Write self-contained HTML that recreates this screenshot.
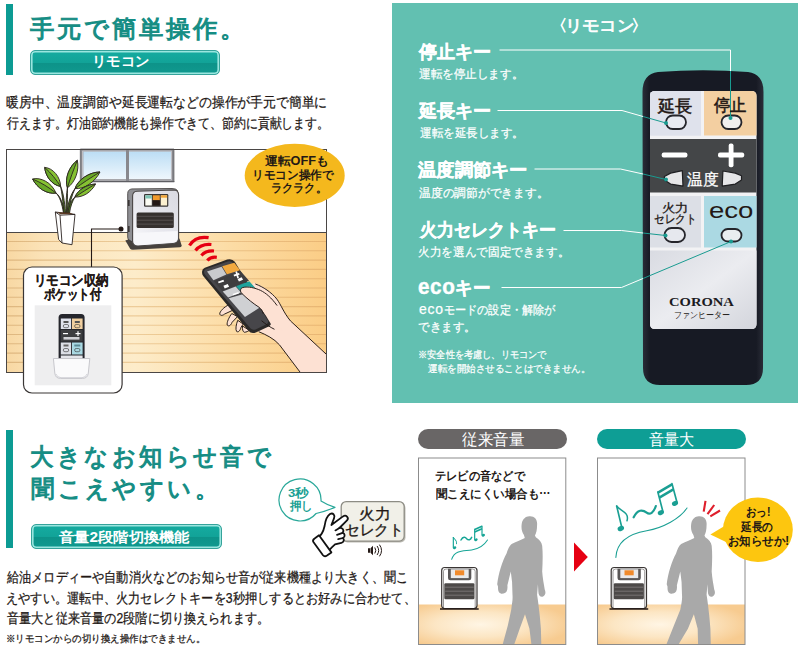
<!DOCTYPE html>
<html lang="ja">
<head>
<meta charset="utf-8">
<title>リモコン</title>
<style>
html,body{margin:0;padding:0;background:#fff;}
body{width:800px;height:660px;position:relative;overflow:hidden;font-family:"Liberation Sans",sans-serif;color:#231815;}
.abs{position:absolute;white-space:nowrap;}
.t{position:absolute;white-space:nowrap;transform-origin:0 0;}
#art{position:absolute;left:0;top:0;width:800px;height:660px;}
.bar{position:absolute;left:6px;width:7px;background:#0c9b93;}
.badge{position:absolute;box-sizing:border-box;height:25px;border-radius:5px;border:0.8px solid #35a39b;box-shadow:inset 0 0 0 1.6px #9ae6df;background:linear-gradient(#15aba0 0%,#12a398 50%,#0d9389 54%,#10998f 100%);}
.panel{position:absolute;left:392px;top:3px;width:406px;height:400px;background:#62c0b1;}
.pill{position:absolute;height:20px;border-radius:10px;}
</style>
</head>
<body>
<svg id="art" width="800" height="660" viewBox="0 0 800 660">
<defs>
<linearGradient id="floorg" x1="0" y1="0" x2="1" y2="0"><stop offset="0" stop-color="#f8d8a3"/><stop offset="0.12" stop-color="#fbe3b8"/><stop offset="0.4" stop-color="#fdecca"/><stop offset="0.7" stop-color="#fcdca5"/><stop offset="1" stop-color="#fbcd86"/></linearGradient><linearGradient id="stripeg" gradientUnits="userSpaceOnUse" x1="6" y1="0" x2="326" y2="0"><stop offset="0" stop-color="#dcb47b"/><stop offset="0.4" stop-color="#ecc994"/><stop offset="1" stop-color="#e8b471"/></linearGradient>
<linearGradient id="pane" x1="0" y1="0" x2="0" y2="1"><stop offset="0" stop-color="#b9dcf4"/><stop offset="1" stop-color="#f1f8fd"/></linearGradient>
<radialGradient id="floor2" cx="0.42" cy="0.5" r="0.62"><stop offset="0" stop-color="#fff5e4"/><stop offset="0.5" stop-color="#fce6c4"/><stop offset="1" stop-color="#f7cb90"/></radialGradient>
<linearGradient id="hfront" x1="1" y1="0" x2="0" y2="1"><stop offset="0" stop-color="#d9d9e1"/><stop offset="0.6" stop-color="#e9e9ef"/><stop offset="1" stop-color="#fafafc"/></linearGradient>
</defs>
<!-- ROOM -->
<g id="room">
<rect x="6.500" y="149.500" width="320" height="223" fill="#fff"/>
<rect x="6.500" y="232.500" width="320" height="140" fill="url(#floorg)"/>
<g stroke="url(#stripeg)" stroke-width="1.100" opacity="0.9">
<path d="M7 241.500H326M7 250.800H326M7 260.100H326M7 269.400H326M7 278.700H326M7 288H326M7 297.300H326M7 306.600H326M7 315.900H326M7 325.200H326M7 334.500H326M7 343.800H326M7 353.100H326M7 362.400H326"/>
</g>
<path d="M6.500 232.500H326.500" stroke="#4a4645" stroke-width="1"/>
<!-- window -->
<rect x="81.800" y="150" width="90.700" height="30.500" fill="url(#pane)" stroke="#88888d" stroke-width="3"/>
<rect x="82.700" y="151" width="88.600" height="29" fill="none" stroke="#d6d6da" stroke-width="0.800"/>
<path d="M127.500 150V181" stroke="#88888d" stroke-width="3"/>
<path d="M80 181.700H174.300" stroke="#5e5e63" stroke-width="1.300"/><path d="M80.300 150V182M174 150V182" stroke="#5e5e63" stroke-width="0.700"/>
<rect x="6.500" y="149.500" width="320" height="223" fill="none" stroke="#4a4645" stroke-width="1"/>
<!-- plant -->
<g stroke="#2a2320" stroke-width="0.900" stroke-linejoin="round">
<path d="M65 213 C63 203 60 196 56 193 C60 197 62 204 63.500 213Z" fill="#4d7d1f"/>
<path d="M65.500 213 C64.500 200 63 192 60.600 186.400 C62 193 63 202 64 213Z" fill="#4d7d1f"/>
<path d="M66 213 C66 200 66.500 194 67.400 188 C67.500 195 67.500 203 67 213Z" fill="#4d7d1f"/>
<path d="M67 213 C68 202 71 194 75 188.600 C72 195 69.500 203 68.500 213Z" fill="#4d7d1f"/>
<path d="M68 213 C69 206 71 200 75 197 C72.500 201 70.500 206 69.500 213Z" fill="#4d7d1f"/>
<path d="M32.600 179 C41 177 51.500 182.500 56 193 C47 194.500 37 188 32.600 179Z" fill="#86c232"/>
<path d="M32.600 179 C41 182.500 49 187.500 56 193 C47 194.500 37 188 32.600 179Z" fill="#69a828"/>
<path d="M44.700 167.400 C53 168 60.500 177 60.600 186.400 C52 185 45.500 176.500 44.700 167.400Z" fill="#86c232"/>
<path d="M44.700 167.400 C51 173 56.500 180 60.600 186.400 C52 185 45.500 176.500 44.700 167.400Z" fill="#69a828"/>
<path d="M77.300 160.300 C79.500 170 75.500 182 67.400 187.900 C64.500 178.500 69 166.500 77.300 160.300Z" fill="#86c232"/>
<path d="M77.300 160.300 C73.500 170 70 179 67.400 187.900 C64.500 178.500 69 166.500 77.300 160.300Z" fill="#69a828"/>
<path d="M100 172 C95 182 84 189.500 75 188.600 C78 179.500 89.500 172 100 172Z" fill="#86c232"/>
<path d="M100 172 C91 177.500 82 183.500 75 188.600 C78 179.500 89.500 172 100 172Z" fill="#69a828"/>
<path d="M95.500 184 C91.500 192 83 197.500 75 197 C78 189.500 87 184.500 95.500 184Z" fill="#86c232"/>
<path d="M95.500 184 C88 188.500 81 193 75 197 C78 189.500 87 184.500 95.500 184Z" fill="#69a828"/>
<path d="M55.300 212 L75 214.400 L72 244.700 L62 243 L58.600 239.400 Z" fill="#fff"/>
<path d="M55.300 212 L60 215.200 L75 214.400 M60 215.200 L62 243" fill="none"/>
<path d="M57 212.300 L60.300 214.200 L73 213.900 L70 212.800Z" fill="#5b3a22" stroke="none"/>
</g>
<!-- heater -->
<g>
<path d="M125.300 240.500 L131 238.500 L179.500 238.500 L181.700 245.500 Q181.700 247 180 247.300 L133 249.700 Q131 249.800 130 248.500 Z" fill="#46413d"/>
<path d="M127.700 193.500 Q127.700 189.500 132 188.900 L172 188.500 Q176 188.500 177.500 190.500 L134 193 L132.600 242 L129 240 Q127.700 239 127.700 237 Z" fill="#8f8f93" stroke="#3a3635" stroke-width="0.800" stroke-linejoin="round"/>
<path d="M132.600 196 Q132.600 191.500 137 191.200 L173.500 190 Q178.600 190 178.600 195 L178.600 238 Q178.600 243 173 243.500 L138 246 Q132.600 246 132.600 241 Z" fill="url(#hfront)" stroke="#4a4645" stroke-width="1.100"/>
<path d="M134 233 L177.500 231 L177.500 238 Q177.500 242 173 242.500 L138 245 Q134 245 134 241Z" fill="#f7f7fa"/>
<rect x="144" y="194" width="24.300" height="12.700" rx="1.200" fill="#3a3635"/>
<rect x="145.300" y="195.300" width="6.500" height="10.200" fill="#fbfbf3"/><rect x="145.300" y="195.300" width="6.500" height="3.200" fill="#7fc4b5"/>
<rect x="152.800" y="195.300" width="7" height="5" fill="#f29b2e"/><rect x="152.800" y="200.300" width="7" height="5.200" fill="#231815"/>
<rect x="160.800" y="195.300" width="6.300" height="10.200" fill="#fcf0d0"/><rect x="160.800" y="195.300" width="6.300" height="2.400" fill="#f2a53a"/>
<rect x="136.600" y="212.500" width="37.200" height="15.500" rx="1.500" fill="#35302e"/>
<path d="M137 216.300H173.500M137 220.200H173.500M137 224.100H173.500" stroke="#5a5553" stroke-width="0.900"/>
<rect x="128" y="200" width="1.600" height="6" fill="#3a3635"/><rect x="128" y="226" width="1.600" height="6" fill="#3a3635"/>
</g>
<!-- connector -->
<path d="M91.500 267 V229 H121" fill="none" stroke="#231815" stroke-width="1.100"/>
<circle cx="121" cy="229" r="2.500" fill="#231815"/>
<!-- label box -->
<rect x="23.500" y="267" width="98.600" height="126" rx="8.500" fill="#fff" stroke="#3a3635" stroke-width="1.200"/>
<rect x="34.700" y="305.300" width="76.600" height="80" fill="#eeeeef"/>
<!-- remote photo -->
<rect x="58.600" y="314" width="26" height="50" rx="3.500" fill="#25262c"/>
<rect x="60.800" y="318.500" width="10.300" height="10.500" fill="#dfe2ec"/><rect x="72" y="318.500" width="10.600" height="10.500" fill="#f0cfa0"/>
<rect x="60.800" y="330" width="21.800" height="11.500" fill="#3d3e40"/>
<rect x="63" y="333" width="5" height="1.200" fill="#fff"/><rect x="75.500" y="333" width="5" height="1.200" fill="#fff"/><rect x="77.400" y="331.200" width="1.200" height="4.800" fill="#fff"/>
<rect x="63.500" y="337" width="16" height="2.600" fill="#cfd0d4"/>
<rect x="60.800" y="342.500" width="10.300" height="12" fill="#dcdfe6"/><rect x="72" y="342.500" width="10.600" height="12" fill="#a9d8e2"/>
<rect x="60.800" y="355.500" width="21.800" height="7" fill="#e4e5ea"/>
<rect x="63.500" y="321" width="5" height="2" fill="#555"/><rect x="74.800" y="321" width="5" height="2" fill="#555"/>
<rect x="63.300" y="324.500" width="5.400" height="3.200" rx="1.600" fill="none" stroke="#333" stroke-width="0.600"/><rect x="74.600" y="324.500" width="5.400" height="3.200" rx="1.600" fill="none" stroke="#333" stroke-width="0.600"/>
<rect x="63.300" y="348.500" width="5.400" height="3.200" rx="1.600" fill="none" stroke="#333" stroke-width="0.600"/><rect x="74.600" y="348.500" width="5.400" height="3.200" rx="1.600" fill="none" stroke="#333" stroke-width="0.600"/>
<rect x="63.500" y="344.500" width="5" height="2" fill="#666"/><rect x="74.300" y="344.500" width="6" height="2" fill="#5a8a96"/>
<path d="M53.400 358.500 L89.800 358.500 L88.300 373 Q87.800 378.400 82.500 378.400 L60.500 378.400 Q55.300 378.400 54.800 373 Z" fill="#fafafb" stroke="#c2c2c7" stroke-width="0.900"/>
<path d="M56 374 Q57 377.500 61 377.700 L82 377.700 Q86 377.500 87 374" fill="none" stroke="#c9c9cf" stroke-width="0.800"/>
<!-- hand + remote -->
<clipPath id="roomclip"><rect x="7" y="150" width="319" height="222"/></clipPath>
<g clip-path="url(#roomclip)">
<g transform="translate(195,250) scale(0.13643)" stroke-linejoin="round" stroke-linecap="round">
<!-- back layer: fingers + palm/arm -->
<g fill="#fde1d3" stroke="#231815" stroke-width="7">
<path d="M262 395 C225 408 190 440 182 462 C178 482 200 484 216 470 L280 440 Z"/>
<path d="M268 468 C248 495 232 530 236 550 C246 564 264 552 272 530 L310 490 Z"/>
<path d="M312 518 C300 550 296 582 305 597 C320 607 333 586 338 565 L352 545 Z"/>
<path d="M348 560 C346 582 350 598 362 603 C378 602 388 596 396 590 Z"/>
<path d="M430 240 C500 265 560 310 600 360 C630 400 650 460 700 520 L960 762 L960 900 L770 895 L619 695 C580 650 520 620 470 600 L400 560 L300 400 Z" stroke="none"/>
</g>
<!-- remote body -->
<path d="M52 162 Q50 140 72 130 L236 70 Q272 60 292 86 L556 520 Q566 546 540 560 L446 604 Q412 616 392 592 L60 190 Q50 178 52 162 Z" fill="#2b2928"/>
<path d="M66 160 Q66 146 82 140 L240 84 Q264 78 278 96 L534 516 Q542 534 524 544 L444 582 Q420 590 406 574 L74 182 Q66 172 66 160 Z" fill="#47464a"/>
<path d="M88 158 L195 122 L230 180 L135 222 Z" fill="#c9cacd"/>
<path d="M199 120 L288 93 L330 148 L234 178 Z" fill="#f2a93f"/>
<path d="M138 227 L332 153 L396 226 L200 300 Z" fill="#3e3d3f"/>
<path d="M168 232 L208 218 L214 230 L174 244 Z M282 182 L322 168 L328 180 L288 194 Z M296 160 L308 156 L322 204 L310 208 Z M208 262 L240 250 L250 270 L218 282 Z M312 212 L342 200 L352 218 L322 230 Z" fill="#fff"/>
<path d="M203 304 L298 268 L338 312 L243 348 Z" fill="#cfd0d3"/>
<path d="M302 266 L398 229 L452 290 L342 310 Z" fill="#1fa39c"/>
<path d="M276 322 L318 308 L322 318 L280 332 Z" fill="#fff"/>
<path d="M247 353 L452 296 L478 420 L366 492 Z" fill="#cfd0d3"/>
<!-- thumb front layer -->
<path d="M350 275 C390 262 440 275 490 300 C540 330 580 380 600 420 L640 600 C560 540 510 450 470 420 C430 395 380 355 345 320 C328 305 330 282 350 275 Z" fill="#fde1d3"/>
<path d="M470 420 C500 440 540 520 580 580 L700 560 L600 400 Z" fill="#fde1d3"/>
<g fill="none" stroke="#231815" stroke-width="7">
<path d="M445 250 C500 270 560 310 600 360 C630 400 650 460 700 520 L960 762"/>
<path d="M600 405 C560 350 520 315 480 296 C440 278 390 265 350 275 C330 282 328 305 345 320 C380 355 430 395 470 420 C485 432 495 445 500 465"/>
<path d="M490 520 C520 545 550 565 580 580"/>
<path d="M470 600 C520 620 580 650 619 695 L770 895"/>
</g>
</g>
</g>
<!-- signal arcs -->
<g fill="none" stroke="#e60012" stroke-width="3.200">
<path d="M189.500 245.500 Q195.600 235.600 208.600 237.700"/>
<path d="M195.500 250.500 Q201.100 243.500 211.400 244.500"/>
<path d="M201.400 255.500 Q205.900 250.400 214 251"/>
<path d="M207.300 260.500 Q210.700 256.500 216.800 257.300"/>
</g>
<!-- bubble -->
<ellipse cx="294.700" cy="175.400" rx="50" ry="31.600" fill="#f4b81d"/>
</g>
<!-- BOTTOM PANELS -->
<g id="bottom">
<rect x="418.500" y="458" width="147.300" height="186.500" fill="#fff"/>
<rect x="418.500" y="604.500" width="147.300" height="40" fill="url(#floor2)"/>
<rect x="418.500" y="458" width="147.300" height="186.500" fill="none" stroke="#8c8c8c" stroke-width="1"/>
<rect x="597.500" y="458" width="147.500" height="186.500" fill="#fff"/>
<rect x="597.500" y="604.500" width="147.500" height="40" fill="url(#floor2)"/>
<rect x="597.500" y="458" width="147.500" height="186.500" fill="none" stroke="#8c8c8c" stroke-width="1"/>
<clipPath id="b1"><rect x="419" y="458" width="146.500" height="186"/></clipPath>
<clipPath id="b2"><rect x="598" y="458" width="146.500" height="186"/></clipPath>
<g clip-path="url(#b1)"><path transform="translate(490,510) scale(0.21213)" d="M185 30 C210 28 224 45 222 70 C222 95 218 110 212 120 L216 128 C232 140 244 150 246 168 C250 210 248 250 246 290 C248 320 254 350 258 375 C264 388 262 402 250 408 C238 412 228 402 228 385 L226 350 L222 400 C228 440 236 500 240 560 L242 640 L196 640 L186 560 L165 492 L140 560 L112 640 L58 640 L84 545 L100 470 C104 440 108 420 106 400 L104 340 L98 290 L82 355 C84 375 80 390 64 394 C46 398 36 385 38 362 L34 350 C40 300 58 240 78 205 C84 185 92 168 102 160 C125 150 150 140 164 132 L160 118 C150 105 146 85 150 62 C155 42 168 31 185 30 Z" fill="#a9a9a9"/></g>
<g clip-path="url(#b2)"><path transform="translate(659.500,510) scale(0.21213)" d="M185 30 C210 28 224 45 222 70 C222 95 218 110 212 120 L216 128 C232 140 244 150 246 168 C250 210 248 250 246 290 C248 320 254 350 258 375 C264 388 262 402 250 408 C238 412 228 402 228 385 L226 350 L222 400 C228 440 236 500 240 560 L242 640 L182 640 L180 560 L162 492 L134 560 L86 640 L30 640 L68 545 L98 470 C104 440 108 420 106 400 L104 340 L98 290 L82 355 C84 375 80 390 64 394 C46 398 36 385 38 362 L34 350 C40 300 58 240 78 205 C84 185 92 168 102 160 C125 150 150 140 164 132 L160 118 C150 105 146 85 150 62 C155 42 168 31 185 30 Z" fill="#a9a9a9"/></g>
<g transform="translate(441.7,0)">
<rect x="0" y="567.500" width="35.300" height="41" rx="3" fill="#fff" stroke="#3a3635" stroke-width="1.200"/>
<path d="M1.800 609V571.500Q1.800 569 4.300 569H31Q33.500 569 33.500 571.500V609" fill="none" stroke="#3a3635" stroke-width="0.500"/>
<path d="M6.300 568.800H29.600V578Q29.600 580.300 27.300 580.300H8.600Q6.300 580.300 6.300 578Z" fill="#5a5757"/>
<rect x="9.100" y="569.300" width="17.900" height="8.800" fill="#e9e9ea"/>
<rect x="13.300" y="570.300" width="9.200" height="5" fill="#f08a2c"/>
<rect x="2.600" y="583.300" width="30.100" height="16" rx="1.200" fill="#4c4948"/>
<path d="M3.500 587.200H32M3.500 591.200H32M3.500 595.200H32" stroke="#8a8786" stroke-width="0.700"/>
<path d="M-1.700 609H37" stroke="#231815" stroke-width="1.600"/>
</g>
<g transform="translate(611.2,0)">
<rect x="0" y="567.500" width="35.300" height="41" rx="3" fill="#fff" stroke="#3a3635" stroke-width="1.200"/>
<path d="M1.800 609V571.500Q1.800 569 4.300 569H31Q33.500 569 33.500 571.500V609" fill="none" stroke="#3a3635" stroke-width="0.500"/>
<path d="M6.300 568.800H29.600V578Q29.600 580.300 27.300 580.300H8.600Q6.300 580.300 6.300 578Z" fill="#5a5757"/>
<rect x="9.100" y="569.300" width="17.900" height="8.800" fill="#e9e9ea"/>
<rect x="13.300" y="570.300" width="9.200" height="5" fill="#f08a2c"/>
<rect x="2.600" y="583.300" width="30.100" height="16" rx="1.200" fill="#4c4948"/>
<path d="M3.500 587.200H32M3.500 591.200H32M3.500 595.200H32" stroke="#8a8786" stroke-width="0.700"/>
<path d="M-1.700 609H37" stroke="#231815" stroke-width="1.600"/>
</g>
<!-- red triangle -->
<path d="M574 542.500 L587.800 557 L574 571.500 Z" fill="#e60012"/>
<!-- small notes -->
<g transform="translate(430,510) scale(0.16667)" fill="none" stroke="#16a596" stroke-linecap="round" stroke-linejoin="round">
<path d="M140 165 V226" stroke-width="7"/><ellipse cx="148" cy="226" rx="10.500" ry="8" transform="rotate(-25 148 226)" fill="#16a596" stroke="none"/>
<path d="M140 165 C148 178 165 182 159 202" stroke-width="6"/>
<path d="M186 180 C198 158 212 162 220 172 C230 184 244 180 250 164" stroke-width="9"/>
<path d="M268 116 V178 M312 96 V150" stroke-width="7"/>
<path d="M268 117 L312 97 M268 132 L312 112" stroke-width="10" stroke-linecap="butt"/>
<ellipse cx="276" cy="179" rx="10.500" ry="8" transform="rotate(-25 276 179)" fill="#16a596" stroke="none"/>
<ellipse cx="320" cy="151" rx="10.500" ry="8" transform="rotate(-25 320 151)" fill="#16a596" stroke="none"/>
<path d="M130 296 C150 238 200 248 250 240 C300 232 330 204 345 180" stroke-width="6"/>
</g>
<!-- large notes -->
<g transform="translate(600,470) scale(0.16667)" fill="none" stroke="#1a9f93" stroke-linecap="round" stroke-linejoin="round">
<path d="M100 216 L131 346" stroke-width="10"/><ellipse cx="125" cy="351" rx="20" ry="15" transform="rotate(-25 125 351)" fill="#1a9f93" stroke="none"/>
<path d="M100 216 C120 245 178 252 162 304" stroke-width="9"/>
<path d="M202 284 C225 236 255 236 280 256 C300 272 322 256 335 216" stroke-width="13"/>
<path d="M347 132 L378 252 M432 82 L463 198" stroke-width="10"/>
<path d="M348 136 L432 86 M356 166 L440 116" stroke-width="15" stroke-linecap="butt"/>
<ellipse cx="365" cy="256" rx="19" ry="14.500" transform="rotate(-25 365 256)" fill="#1a9f93" stroke="none"/>
<ellipse cx="450" cy="200" rx="19" ry="14.500" transform="rotate(-25 450 200)" fill="#1a9f93" stroke="none"/>
<path d="M95 525 C100 430 180 382 280 365 C380 346 480 292 522 228" stroke-width="6.500"/>
</g>
<!-- red alert lines -->
<g stroke="#df1f2c" stroke-width="2.100" fill="none"><path d="M705.500 500.800L703.700 511.700M714.200 505L707.500 514.200M720 510.500L710.300 516.300"/></g>
<!-- yellow bubble 2 -->
<ellipse cx="757.900" cy="529.700" rx="34.900" ry="32.200" fill="#fdc60f"/>
<path d="M710.400 534.500 L727 524.500 L726 542 Z" fill="#fdc60f"/>
<!-- 3sec bubble -->
<path d="M321 501.100 A21 21 0 1 0 316.100 513.500 Q325 511.500 335 507.400 Q327 505 321 501.100 Z" fill="#fff" stroke="#2aa89a" stroke-width="1.200" stroke-linejoin="round"/>
<!-- button -->
<rect x="342.500" y="503" width="63" height="39.500" rx="5" fill="#bdbcb4"/>
<rect x="341.200" y="501.600" width="63" height="39.500" rx="5" fill="#f1f0e8" stroke="#8d8c84" stroke-width="1.300"/>
<!-- pointing hand -->
<g transform="translate(261,460) scale(0.2)" stroke="#111" stroke-width="9" stroke-linejoin="round" stroke-linecap="round" fill="#fff">
<path d="M318 330 C322 300 330 280 345 270 C360 262 372 275 365 292 L352 325 L410 282 C425 272 442 288 430 302 L392 340 C408 338 418 352 408 364 C420 366 422 384 410 390 C418 398 414 412 402 414 L370 422 C350 440 335 455 330 470 L275 400 C295 385 312 360 318 330 Z"/>
<path d="M392 340 L372 352 M408 364 L380 374 M410 390 L386 396" fill="none"/>
<path d="M268 392 L290 376 L352 462 L330 478 Q318 486 310 476 L262 410 Q256 400 268 392 Z"/>
</g>
<!-- speaker icon -->
<g fill="#231815" stroke="none">
<path d="M368 548.300H370V552.700H368Z M370.500 548.300L373 545.800V555.200L370.500 552.700Z"/>
</g>
<g fill="none" stroke="#231815" stroke-width="1" stroke-linecap="round">
<path d="M375 547.800Q376.800 550.500 375 553.200M377.300 546.300Q380.300 550.500 377.300 554.700M379.700 545Q383.600 550.500 379.700 556"/>
</g>
</g>
</svg>
<div class="bar" style="top:4px;height:71px"></div>
<div class="badge" style="left:30px;top:50px;width:190px"></div>
<div class="bar" style="top:430px;height:118px"></div>
<div class="badge" style="left:31px;top:524px;width:191px"></div>
<div class="pill" style="left:418px;top:429px;width:149px;background:#696666"></div>
<div class="pill" style="left:597px;top:429px;width:149px;background:#0e9e95"></div>

<div class="panel"></div>
<svg class="abs" style="left:0;top:0" width="800" height="660" viewBox="0 0 800 660">
<defs>
<linearGradient id="lowp" x1="0" y1="0" x2="1" y2="1"><stop offset="0" stop-color="#d9dbe2"/><stop offset="0.5" stop-color="#ebecf0"/><stop offset="1" stop-color="#d3d5dc"/></linearGradient>
<linearGradient id="rbody" x1="0" y1="0" x2="1" y2="0"><stop offset="0" stop-color="#2a2d38"/><stop offset="0.06" stop-color="#171a24"/><stop offset="0.94" stop-color="#171a24"/><stop offset="1" stop-color="#2a2d38"/></linearGradient>
</defs>
<!-- remote body -->
<path d="M642.5 92 Q642.5 74 658 72 Q703 68.500 748 72 Q763.500 74 763.500 92 L763 368 Q763 385 746 385 L660 385 Q643 385 643 368 Z" fill="url(#rbody)"/>
<!-- inner panel -->
<path d="M650 96 Q650 91 655 91 L751.500 91 Q756.500 91 756.500 96 L756.500 324 Q756.500 329 751.500 329 L655 329 Q650 329 650 324 Z" fill="#f2f2f4"/>
<rect x="650.500" y="92" width="50.500" height="43.500" fill="#dfe2ec"/>
<path d="M650 96 Q650 91 655 91 L701 91 L701 135.500 L650 135.500 Z" fill="#dfe2ec"/>
<path d="M704 91 L751.500 91 Q756.500 91 756.500 96 L756.500 135.500 L704 135.500 Z" fill="#f3cfa1"/>
<rect x="650" y="139" width="106.500" height="53.500" fill="#444648"/>
<rect x="650" y="196" width="51" height="51.500" fill="#dcdfe6"/>
<rect x="704" y="196" width="52.500" height="51.500" fill="#abd9e3"/>
<path d="M650 250.500 L756.500 250.500 L756.500 324 Q756.500 329 751.500 329 L655 329 Q650 329 650 324 Z" fill="url(#lowp)"/>
<!-- minus / plus -->
<rect x="661.700" y="152.600" width="25.700" height="4.800" rx="2" fill="#fff"/>
<rect x="718" y="152.600" width="26.200" height="4.800" rx="2" fill="#fff"/>
<rect x="728.700" y="143.500" width="4.800" height="23.700" rx="2" fill="#fff"/>
<!-- temp arrow buttons -->
<path d="M682.300 170.700 L683 186.100 L670.600 184.100 L664.400 180 L664.400 176.500 L670.600 173.100 Z" fill="#e6e6e8" stroke="#1f1f22" stroke-width="1.200" stroke-linejoin="round"/>
<path d="M722.900 171 L722.200 186.100 L735.300 184.100 L741.500 180 L741.500 175.800 L735.300 173.100 Z" fill="#e6e6e8" stroke="#1f1f22" stroke-width="1.200" stroke-linejoin="round"/>
<!-- oval buttons -->
<rect x="666" y="115.500" width="20" height="13.500" rx="6.750" fill="#e9ebf2" stroke="#25252b" stroke-width="1.800"/>
<rect x="721.500" y="115.500" width="20" height="13.500" rx="6.750" fill="#f1efee" stroke="#25252b" stroke-width="1.800"/>
<rect x="664.500" y="228" width="20.500" height="14" rx="7" fill="#e6e8ee" stroke="#25252b" stroke-width="1.800"/>
<rect x="721.500" y="229" width="20" height="12.500" rx="6.250" fill="#e9eef0" stroke="#25252b" stroke-width="1.800"/>
<!-- leader lines (white on panel) -->
<g fill="none" stroke="#fff" stroke-width="1">
<path d="M499.500 50 L730.500 50 L730.500 71"/>
<path d="M497.500 110.500 L622 110.500 L643 116.500"/>
<path d="M534.500 169 L620.500 169 L643 174"/>
<path d="M563.500 230.500 L621.500 230.500 L643 233"/>
<path d="M501.500 287.500 L621.500 287.500 L643 278.500"/>
</g>
<g fill="none" stroke="#199b90" stroke-width="1">
<path d="M730.500 71 L730.500 118"/>
<path d="M643 116.500 L666 123"/>
<path d="M643 174 L666 179.500"/>
<path d="M643 233 L665.500 235.500"/>
<path d="M643 278.500 L731 241.500"/>
</g>
<g fill="#199b90">
<circle cx="730.500" cy="118" r="2"/><circle cx="666" cy="123" r="2"/><circle cx="666" cy="179.500" r="2"/><circle cx="665.500" cy="235.500" r="2"/><circle cx="731" cy="241.500" r="2"/>
</g>
</svg>


<div class="t" style="left:30.30px;top:14.75px;font-size:24px;line-height:28.80px;transform:scaleX(1.0138);color:#158d84;-webkit-text-stroke:1.1px #158d84;letter-spacing:2.6px">手元で簡単操作。</div>
<div class="t" style="left:92.44px;top:53.00px;font-size:14px;line-height:16.80px;transform:scaleX(1.0212);color:#fff;font-weight:bold">リモコン</div>
<div class="t" style="left:5.58px;top:94.00px;font-size:14px;line-height:16.80px;transform:scaleX(0.9181);color:#231815;-webkit-text-stroke:0.25px #231815">暖房中、温度調節や延長運転などの操作が手元で簡単に</div>
<div class="t" style="left:6.50px;top:115.25px;font-size:14px;line-height:16.80px;transform:scaleX(0.8523);color:#231815;-webkit-text-stroke:0.25px #231815">行えます。灯油節約機能も操作できて、節約に貢献します。</div>
<div class="t" style="left:550.13px;top:16.60px;font-size:15.5px;line-height:18.60px;transform:scaleX(1.0873);color:#fff;-webkit-text-stroke:0.75px #fff"><span style="letter-spacing:-0.17em">〈</span>リモコン<span style="margin-left:-0.17em">〉</span></div>
<div class="t" style="left:419.30px;top:41.50px;font-size:18px;line-height:21.60px;transform:scaleX(1.0028);color:#fff;font-weight:bold;-webkit-text-stroke:0.4px #fff">停止キー</div>
<div class="t" style="left:418.50px;top:66.60px;font-size:12px;line-height:14.40px;transform:scaleX(0.9650);color:#fff;-webkit-text-stroke:0.25px #fff">運転を停止します。</div>
<div class="t" style="left:419.30px;top:101.00px;font-size:18px;line-height:21.60px;transform:scaleX(1.0028);color:#fff;font-weight:bold;-webkit-text-stroke:0.4px #fff">延長キー</div>
<div class="t" style="left:420.00px;top:125.50px;font-size:12px;line-height:14.40px;transform:scaleX(0.9600);color:#fff;-webkit-text-stroke:0.25px #fff">運転を延長します。</div>
<div class="t" style="left:418.30px;top:160.35px;font-size:18px;line-height:21.60px;transform:scaleX(1.0159);color:#fff;font-weight:bold;-webkit-text-stroke:0.4px #fff">温度調節キー</div>
<div class="t" style="left:418.50px;top:185.75px;font-size:12px;line-height:14.40px;transform:scaleX(0.9798);color:#fff;-webkit-text-stroke:0.25px #fff">温度の調節ができます。</div>
<div class="t" style="left:420.24px;top:220.00px;font-size:18px;line-height:21.60px;transform:scaleX(0.9424);color:#fff;font-weight:bold;-webkit-text-stroke:0.4px #fff">火力セレクトキー</div>
<div class="t" style="left:418.03px;top:245.10px;font-size:12px;line-height:14.40px;transform:scaleX(0.9707);color:#fff;-webkit-text-stroke:0.25px #fff">火力を選んで固定できます。</div>
<div class="t" style="left:418.03px;top:276.75px;font-size:18px;line-height:21.60px;transform:scaleX(0.9726);color:#fff;font-weight:bold;-webkit-text-stroke:0.4px #fff"><span style="font-size:1.18em;letter-spacing:0.03em">eco</span>キー</div>
<div class="t" style="left:419.00px;top:302.00px;font-size:12px;line-height:14.40px;transform:scaleX(0.9315);color:#fff;-webkit-text-stroke:0.25px #fff"><span style="font-size:1.25em;letter-spacing:0.05em">eco</span>モードの設定・解除が</div>
<div class="t" style="left:418.04px;top:319.70px;font-size:12px;line-height:14.40px;transform:scaleX(0.9608);color:#fff;-webkit-text-stroke:0.25px #fff">できます。</div>
<div class="t" style="left:418.08px;top:349.25px;font-size:10px;line-height:12.00px;transform:scaleX(0.9187);color:#fff;-webkit-text-stroke:0.25px #fff">※安全性を考慮し、リモコンで</div>
<div class="t" style="left:428.30px;top:363.00px;font-size:10px;line-height:12.00px;transform:scaleX(0.9552);color:#fff;-webkit-text-stroke:0.25px #fff">運転を開始させることはできません。</div>
<div class="t" style="left:657.60px;top:96.60px;font-size:16.5px;line-height:19.80px;transform:scaleX(1.0118);color:#231815;-webkit-text-stroke:0.55px #231815">延長</div>
<div class="t" style="left:714.30px;top:96.10px;font-size:16.5px;line-height:19.80px;transform:scaleX(0.9618);color:#231815;-webkit-text-stroke:0.55px #231815">停止</div>
<div class="t" style="left:686.70px;top:170.50px;font-size:15.5px;line-height:18.60px;transform:scaleX(0.9781);color:#fff;-webkit-text-stroke:0.3px #fff">温度</div>
<div class="t" style="left:661.69px;top:200.50px;font-size:12px;line-height:14.40px;transform:scaleX(1.1091);color:#231815;-webkit-text-stroke:0.3px #231815">火力</div>
<div class="t" style="left:654.12px;top:212.95px;font-size:11.5px;line-height:13.80px;transform:scaleX(0.8795);color:#231815;-webkit-text-stroke:0.3px #231815">セレクト</div>
<div class="t" style="left:708.62px;top:199.05px;font-size:21.5px;line-height:25.80px;transform:scaleX(1.2818);color:#231815">eco</div>
<div class="t" style="left:669.23px;top:296.00px;font-size:11.5px;line-height:13.80px;transform:scaleX(1.2700);color:#1b1b1f;font-family:'Liberation Serif',serif;font-weight:bold">CORONA</div>
<div class="t" style="left:673.50px;top:309.95px;font-size:8.5px;line-height:10.20px;transform:scaleX(0.8951);color:#231815">ファンヒーター</div>
<div class="t" style="left:33.83px;top:272.75px;font-size:13.5px;line-height:16.20px;transform:scaleX(0.8914);color:#231815;font-weight:bold;-webkit-text-stroke:0.15px #231815">リモコン収納</div>
<div class="t" style="left:44.00px;top:287.00px;font-size:13.5px;line-height:16.20px;transform:scaleX(0.8171);color:#231815;font-weight:bold;-webkit-text-stroke:0.15px #231815">ポケット付</div>
<div class="t" style="left:265.00px;top:153.95px;font-size:12px;line-height:14.40px;transform:scaleX(1.0621);color:#231815;font-weight:bold">運転OFFも</div>
<div class="t" style="left:251.89px;top:167.55px;font-size:12px;line-height:14.40px;transform:scaleX(0.9704);color:#231815;font-weight:bold">リモコン操作で</div>
<div class="t" style="left:270.87px;top:180.85px;font-size:12px;line-height:14.40px;transform:scaleX(0.9294);color:#231815;font-weight:bold">ラクラク。</div>
<div class="t" style="left:29.53px;top:442.75px;font-size:24px;line-height:28.80px;transform:scaleX(0.9749);color:#158d84;-webkit-text-stroke:1.1px #158d84;letter-spacing:3.2px">大きなお知らせ音で</div>
<div class="t" style="left:30.50px;top:474.85px;font-size:24px;line-height:28.80px;transform:scaleX(0.9744);color:#158d84;-webkit-text-stroke:1.1px #158d84;letter-spacing:3.2px">聞こえやすい。</div>
<div class="t" style="left:59.00px;top:528.50px;font-size:14px;line-height:16.80px;transform:scaleX(1.0917);color:#fff;font-weight:bold">音量2段階切換機能</div>
<div class="t" style="left:6.50px;top:568.75px;font-size:14px;line-height:16.80px;transform:scaleX(0.8685);color:#231815;-webkit-text-stroke:0.25px #231815">給油メロディーや自動消火などのお知らせ音が従来機種より大きく、聞こ</div>
<div class="t" style="left:5.63px;top:589.55px;font-size:14px;line-height:16.80px;transform:scaleX(0.8725);color:#231815;-webkit-text-stroke:0.25px #231815">えやすい。運転中、火力セレクトキーを3秒押しするとお好みに合わせて、</div>
<div class="t" style="left:6.50px;top:610.30px;font-size:14px;line-height:16.80px;transform:scaleX(0.8686);color:#231815;-webkit-text-stroke:0.25px #231815">音量大と従来音量の2段階に切り換えられます。</div>
<div class="t" style="left:5.55px;top:633.15px;font-size:10px;line-height:12.00px;transform:scaleX(0.9480);color:#231815;-webkit-text-stroke:0.25px #231815">※リモコンからの切り換え操作はできません。</div>
<div class="t" style="left:461.52px;top:430.85px;font-size:15.5px;line-height:18.60px;transform:scaleX(0.9758);color:#fff">従来音量</div>
<div class="t" style="left:649.30px;top:430.85px;font-size:15.5px;line-height:18.60px;transform:scaleX(0.9426);color:#fff">音量大</div>
<div class="t" style="left:435.06px;top:469.30px;font-size:12px;line-height:14.40px;transform:scaleX(0.9368);color:#231815;font-weight:bold">テレビの音などで</div>
<div class="t" style="left:436.00px;top:486.70px;font-size:12px;line-height:14.40px;transform:scaleX(0.9546);color:#231815;font-weight:bold">聞こえにくい場合も<span style="position:relative;top:-0.33em">…</span></div>
<div class="t" style="left:745.83px;top:504.80px;font-size:12px;line-height:14.40px;transform:scaleX(0.8731);color:#231815;font-weight:bold">おっ!</div>
<div class="t" style="left:741.00px;top:520.00px;font-size:12px;line-height:14.40px;transform:scaleX(0.8889);color:#231815;font-weight:bold">延長の</div>
<div class="t" style="left:727.55px;top:533.70px;font-size:12px;line-height:14.40px;transform:scaleX(0.9532);color:#231815;font-weight:bold">お知らせか!</div>
<div class="t" style="left:288.46px;top:487.00px;font-size:11.5px;line-height:13.80px;transform:scaleX(1.1412);color:#1a9f93;font-weight:bold">3秒</div>
<div class="t" style="left:290.00px;top:500.00px;font-size:11.5px;line-height:13.80px;transform:scaleX(0.9545);color:#1a9f93;font-weight:bold">押し</div>
<div class="t" style="left:358.55px;top:506.00px;font-size:14.5px;line-height:17.40px;transform:scaleX(1.0519);color:#231815;-webkit-text-stroke:0.35px #231815">火力</div>
<div class="t" style="left:345.43px;top:522.30px;font-size:14.5px;line-height:17.40px;transform:scaleX(0.9745);color:#231815;-webkit-text-stroke:0.35px #231815">セレクト</div>
</body>
</html>
